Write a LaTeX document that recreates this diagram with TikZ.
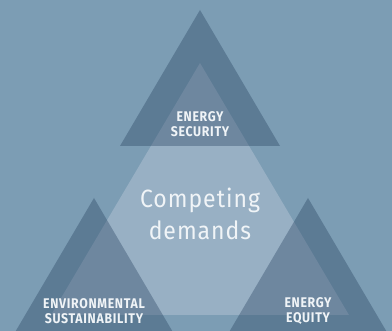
\documentclass[tikz,border=0pt]{standalone}
\usepackage{fontspec}
\setmainfont{Fira Sans}
\definecolor{bgc}{RGB}{124,157,180}
\definecolor{lightc}{RGB}{152,176,196}
\definecolor{darkc}{RGB}{33,60,91}
\definecolor{txtc}{RGB}{240,244,247}
\begin{document}
\begin{tikzpicture}[x=1pt,y=-1pt,
  darktri/.style={fill=darkc,fill opacity=0.35,draw=none},
  lighttri/.style={fill=lightc,draw=none},
  lbl/.style={text=txtc,align=center,font=\fontsize{14}{15.5}\selectfont\bfseries\addfontfeatures{LetterSpace=5,FakeStretch=0.88},inner sep=0pt},
  mainlbl/.style={text=txtc,align=center,font=\fontsize{25}{32}\selectfont\addfontfeatures{LetterSpace=4,FakeStretch=0.92},inner sep=0pt}]
\fill[bgc] (0,0) rectangle (392,331);
\useasboundingbox (0,0) rectangle (392,331);
% central light triangle
\fill[lighttri] (200,63) -- (349,315) -- (51,315) -- cycle;
% dark corner triangles
\fill[darktri] (200,10) -- (280,146) -- (120,146) -- cycle;
\fill[darktri] (94,198) -- (174,334) -- (14,334) -- cycle;
\fill[darktri] (308,198) -- (388,334) -- (228,334) -- cycle;
% labels
\node[lbl] (sec) at (200,124) {ENERGY\\SECURITY};
\node[mainlbl] (comp) at (200,214) {Competing\\demands};
\node[lbl] (env) at (94,311) {ENVIRONMENTAL\\SUSTAINABILITY};
\node[lbl] (eq) at (308,311) {ENERGY\\EQUITY};
\end{tikzpicture}
\end{document}
